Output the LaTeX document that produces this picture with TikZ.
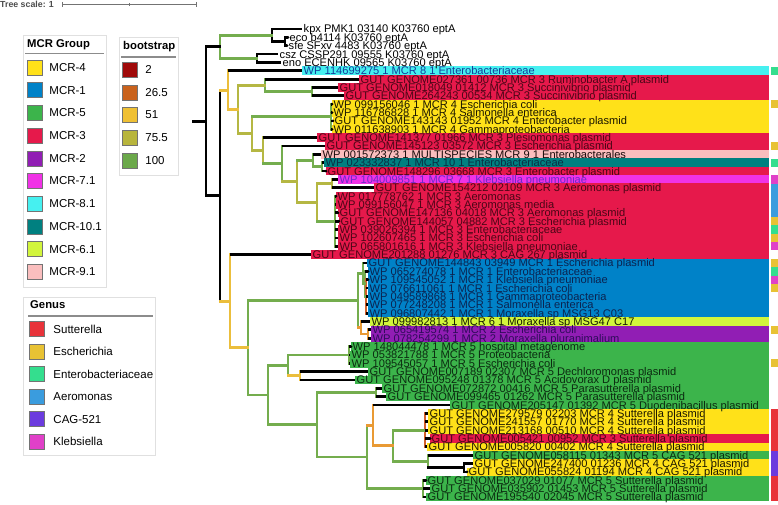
\documentclass[tikz,border=0pt]{standalone}
\usepackage{fontspec}
\setmainfont{Liberation Sans}
\usetikzlibrary{positioning}

% MCR groups
\definecolor{m4}{HTML}{FFE119}
\definecolor{m1}{HTML}{0082C8}
\definecolor{m5}{HTML}{3CB44B}
\definecolor{m3}{HTML}{E6194B}
\definecolor{m2}{HTML}{911EB4}
\definecolor{m71}{HTML}{F032E6}
\definecolor{m81}{HTML}{46F0F0}
\definecolor{m101}{HTML}{008080}
\definecolor{m61}{HTML}{D2F53C}
\definecolor{m91}{HTML}{FABEBE}
% label text
\definecolor{tm4}{HTML}{1A1600}
\definecolor{tm1}{HTML}{0B2350}
\definecolor{tm5}{HTML}{0B2A10}
\definecolor{tm3}{HTML}{4A0616}
\definecolor{tm2}{HTML}{2E0C5A}
\definecolor{tm71}{HTML}{6A2BC8}
\definecolor{tm81}{HTML}{143C9C}
\definecolor{tm101}{HTML}{0A2E44}
\definecolor{tm61}{HTML}{141A00}
\definecolor{tm91}{HTML}{1A0A0A}
% bootstrap
\definecolor{b2}{HTML}{A00A0A}
\definecolor{b26}{HTML}{C9621C}
\definecolor{b51}{HTML}{EFC034}
\definecolor{b75}{HTML}{B8B53C}
\definecolor{b100}{HTML}{6BA84A}
% branches
\definecolor{tg}{HTML}{74AD4E}
\definecolor{tolive}{HTML}{B5B743}
\definecolor{tgold}{HTML}{EBBE3C}
\definecolor{torange}{HTML}{E99A34}
\definecolor{tred}{HTML}{D2612B}
% genus
\definecolor{gsut}{HTML}{E8333A}
\definecolor{gesc}{HTML}{E8C234}
\definecolor{gent}{HTML}{34DE8E}
\definecolor{gaer}{HTML}{3A9CDE}
\definecolor{gcag}{HTML}{6B3BDE}
\definecolor{gkle}{HTML}{E040C8}
\definecolor{gno}{HTML}{FFFFFF}

\def\outgroup{1/A1/302/kpx PMK1 03140 K03760 eptA,
2/A2/288/eco b4114 K03760 eptA,
3/A2/287/sfe SFxv 4483 K03760 eptA,
4/A3/278/csz CSSP291 09555 K03760 eptA,
5/A3/281/eno ECENHK 09565 K03760 eptA}

\def\leaves{6/C/302/m81/gent/WP 114699275 1 MCR 8 1 Enterobacteriaceae,
7/E/359/m3/gno/GUT GENOME027361 00736 MCR 3 Ruminobacter A plasmid,
8/F/338/m3/gno/GUT GENOME018049 01412 MCR 3 Succinivibrio plasmid,
9/F/344/m3/gno/GUT GENOME264243 00534 MCR 3 Succinivibrio plasmid,
10/M4/332/m4/gesc/WP 099156046 1 MCR 4 Escherichia coli,
11/M4/332/m4/gno/WP 116786828 1 MCR 4 Salmonella enterica,
12/M4/333/m4/gno/GUT GENOME143143 01952 MCR 4 Enterobacter plasmid,
13/M4/332/m4/gno/WP 011638903 1 MCR 4 Gammaproteobacteria,
14/G2/317/m3/gno/GUT GENOME141377 01966 MCR 3 Plesiomonas plasmid,
15/G3/325/m3/gesc/GUT GENOME145123 03572 MCR 3 Escherichia plasmid,
16/G5/321/m91/gno/WP 001572373 1 MULTISPECIES MCR 9 1 Enterobacterales,
17/G7/324/m101/gent/WP 023332837 1 MCR 10 1 Enterobacteriaceae,
18/G7/326/m3/gno/GUT GENOME148296 03668 MCR 3 Enterobacter plasmid,
19/G8/338/m71/gkle/WP 104009851 1 MCR 7 1 Klebsiella pneumoniae,
20/G8/374/m3/gaer/GUT GENOME154212 02109 MCR 3 Aeromonas plasmid,
21/G9/336/m3/gaer/WP 017778762 1 MCR 3 Aeromonas,
22/G9/336/m3/gaer/WP 099156047 1 MCR 3 Aeromonas media,
23/G9/338/m3/gaer/GUT GENOME147136 04018 MCR 3 Aeromonas plasmid,
24/G9/339/m3/gesc/GUT GENOME144057 04882 MCR 3 Escherichia plasmid,
25/G9/338/m3/gent/WP 039026394 1 MCR 3 Enterobacteriaceae,
26/G9/338/m3/gesc/WP 102607465 1 MCR 3 Escherichia coli,
27/G9/338/m3/gkle/WP 065801616 1 MCR 3 Klebsiella pneumoniae,
28/H/311/m3/gno/GUT GENOME201288 01276 MCR 3 CAG 267 plasmid,
29/J1/367/m1/gesc/GUT GENOME144843 03949 MCR 1 Escherichia plasmid,
30/J1b/368/m1/gent/WP 065274078 1 MCR 1 Enterobacteriaceae,
31/J1c/368/m1/gkle/WP 109545052 1 MCR 1 Klebsiella pneumoniae,
32/J1c/368/m1/gesc/WP 076611061 1 MCR 1 Escherichia coli,
33/J1c/368/m1/gno/WP 049589868 1 MCR 1 Gammaproteobacteria,
34/J1c/368/m1/gno/WP 077248208 1 MCR 1 Salmonella enterica,
35/J1c/368/m1/gno/WP 096807442 1 MCR 1 Moraxella sp MSG13 C03,
36/J2/370/m61/gno/WP 099982813 1 MCR 6 1 Moraxella sp MSG47 C17,
37/J3/371/m2/gesc/WP 065419574 1 MCR 2 Escherichia coli,
38/J3/371/m2/gno/WP 078254299 1 MCR 2 Moraxella pluranimalium,
39/K1a/351/m5/gno/WP 148044478 1 MCR 5 hospital metagenome,
40/K1a/350/m5/gno/WP 053821788 1 MCR 5 Proteobacteria,
41/K1a/350/m5/gesc/WP 109545057 1 MCR 5 Escherichia coli,
42/K1b/368/m5/gno/GUT GENOME007189 02307 MCR 5 Dechloromonas plasmid,
43/K1b/355/m5/gno/GUT GENOME095248 01378 MCR 5 Acidovorax D plasmid,
44/P/382/m5/gno/GUT GENOME072872 00416 MCR 5 Parasutterella plasmid,
45/P/386/m5/gno/GUT GENOME099465 01262 MCR 5 Parasutterella plasmid,
46/O1/450/m5/gno/GUT GENOME205147 01392 MCR 5 Duodenibacillus plasmid,
47/L47/428/m4/gsut/GUT GENOME279579 02203 MCR 4 Sutterella plasmid,
48/L47/428/m4/gsut/GUT GENOME241557 01770 MCR 4 Sutterella plasmid,
49/L47/428/m4/gsut/GUT GENOME213168 00510 MCR 4 Sutterella plasmid,
50/L47/430/m3/gsut/GUT GENOME005421 00952 MCR 3 Sutterella plasmid,
51/L47/427/m4/gsut/GUT GENOME005820 00402 MCR 4 Sutterella plasmid,
52/L52/473/m5/gcag/GUT GENOME058115 01343 MCR 5 CAG 521 plasmid,
53/L53/473/m4/gcag/GUT GENOME247400 01236 MCR 4 CAG 521 plasmid,
54/L53/467/m4/gcag/GUT GENOME055824 01194 MCR 4 CAG 521 plasmid,
55/M/426/m5/gsut/GUT GENOME037029 01077 MCR 5 Sutterella plasmid,
56/M/430/m5/gsut/GUT GENOME035902 01453 MCR 5 Sutterella plasmid,
57/M/426/m5/gsut/GUT GENOME195540 02045 MCR 5 Sutterella plasmid}

\begin{document}
\begin{tikzpicture}[x=1pt,y=-1pt,
    br/.style={line width=2.8pt,line cap=rect,draw=#1},
    leafline/.style={line width=2.8pt,line cap=butt,draw=black},
    lab/.style={anchor=base west,inner sep=0pt,xshift=1.5pt,yshift=-3.95pt,font=\fontsize{11.1}{11.1}\selectfont},
    swatch/.style={draw=black!55,line width=0.5pt,minimum size=15pt,inner sep=0pt},
    legtxt/.style={anchor=west,inner sep=0pt,font=\fontsize{11.5}{12}\selectfont},
    leghead/.style={anchor=west,inner sep=0pt,font=\bfseries\fontsize{11.3}{12}\selectfont},
    legbox/.style={draw=black!12,line width=0.8pt,fill=white},
    legrule/.style={draw=black!45,line width=1.2pt}]
\useasboundingbox (0,0) rectangle (778,505);

% tree scale
\node[anchor=west,inner sep=0pt,text=black!70,font=\bfseries\fontsize{8.8}{9}\selectfont] (tscale) at (0,4.5) {Tree scale: 1};
\coordinate (sb0) at (62,4.5);
\coordinate (sbm) at (129,4.5);
\coordinate (sb1) at (196,4.5);
\draw[black!55,line width=0.8pt] (sb0) -- (sb1);
\draw[black!55,line width=0.8pt] ([yshift=2.5pt]sb0) -- ([yshift=-2.5pt]sb0);
\draw[black!55,line width=0.8pt] ([yshift=2.5pt]sb1) -- ([yshift=-2.5pt]sb1);
\draw[black!55,line width=0.6pt] ([yshift=1.5pt]sbm) -- ([yshift=-1.5pt]sbm);

% legends
\draw[legbox] (23,35) rectangle (106,287);
\node[leghead] (mcrhead) at (27,45) {MCR Group};
\draw[legrule] (25,53.5) -- (104,53.5);
\foreach \cc/\tt [count=\k] in {m4/MCR-4,m1/MCR-1,m5/MCR-5,m3/MCR-3,m2/MCR-2,m71/MCR-7.1,m81/MCR-8.1,m101/MCR-10.1,m61/MCR-6.1,m91/MCR-9.1}{
  \node[swatch,fill=\cc] (ms\k) at (34.5,{67.5+(\k-1)*22.7}) {};
  \node[legtxt,right=7pt of ms\k] (mt\k) {\tt};
}

\draw[legbox] (119,37) rectangle (178,175);
\node[leghead] (bshead) at (123,47) {bootstrap};
\draw[legrule] (121,57) -- (176,57);
\foreach \cc/\tt [count=\k] in {b2/2,b26/26.5,b51/51,b75/75.5,b100/100}{
  \node[swatch,fill=\cc] (bs\k) at (129.5,{69.5+(\k-1)*22.8}) {};
  \node[legtxt,right=8pt of bs\k] (bt\k) {\tt};
}

\draw[legbox] (23,297) rectangle (155,455);
\node[leghead] (gnhead) at (30,305) {Genus};
\draw[legrule] (28,316) -- (153,316);
\foreach \cc/\tt [count=\k] in {gsut/Sutterella,gesc/Escherichia,gent/Enterobacteriaceae,gaer/Aeromonas,gcag/CAG-521,gkle/Klebsiella}{
  \node[swatch,fill=\cc] (gs\k) at (36.5,{329.2+(\k-1)*22.5}) {};
  \node[legtxt,right=9pt of gs\k] (gt\k) {\tt};
}

% internal nodes
\coordinate (root) at (193,121.24);
\coordinate (R) at (206,121.24);
\coordinate (A) at (220,46.76);
\coordinate (A1) at (272,35.27);
\coordinate (A2) at (285,41.54);
\coordinate (A3) at (257,58.25);
\coordinate (B) at (220,195.72);
\coordinate (C) at (228,90.18);
\coordinate (D) at (238,109.57);
\coordinate (E) at (265,85.41);
\coordinate (F) at (312,91.68);
\coordinate (G) at (252,133.73);
\coordinate (M4) at (331,116.75);
\coordinate (G2) at (263,150.70);
\coordinate (G3) at (282,163.76);
\coordinate (G4) at (297,181.52);
\coordinate (G5) at (313,160.63);
\coordinate (G7) at (322,166.89);
\coordinate (G6) at (317,202.41);
\coordinate (G8) at (332,183.61);
\coordinate (G9) at (335,221.21);
\coordinate (H) at (230,301.25);
\coordinate (I) at (248,347.85);
\coordinate (J) at (358,300.61);
\coordinate (J1) at (363,273.45);
\coordinate (J1b) at (365,283.89);
\coordinate (J1c) at (366,296.43);
\coordinate (J2) at (361,327.77);
\coordinate (J3) at (368,334.03);
\coordinate (K) at (268,395.09);
\coordinate (K1) at (288,365.38);
\coordinate (K1a) at (349,354.93);
\coordinate (K1b) at (300,375.82);
\coordinate (K2) at (317,424.79);
\coordinate (P) at (376,392.53);
\coordinate (N) at (367,457.04);
\coordinate (O1) at (373,425.44);
\coordinate (O2) at (393,445.81);
\coordinate (L47) at (425,430.14);
\coordinate (L52) at (428,461.48);
\coordinate (L53) at (464,467.74);
\coordinate (M) at (423,488.64);

% leaves, label bands, genus strip
\foreach \i/\p/\tx/\s in \outgroup
  \coordinate (l\i) at (\tx,{29+(\i-1)*8.357});
\foreach \i/\p/\tx/\m/\g/\s in \leaves{
  \coordinate (l\i) at (\tx,{29+(\i-1)*8.357});
  \fill[\m] ([yshift=4.3pt]l\i) rectangle (769.3,{29+(\i-1)*8.357+4.3});
  \fill[\g] (770.7,{29+(\i-1)*8.357-4.2}) rectangle (778,{29+(\i-1)*8.357+4.2});
}

% branches
\draw[br=black] (root) -- (R);
\foreach \n/\a/\b/\cc in {R/A/B/black,A/A1/A3/tg,A1/l1/A2/black,A2/l2/l3/black,A3/l4/l5/black,
    B/C/H/black,C/l6/D/tgold,D/E/G/tolive,E/l7/F/tg,F/l8/l9/tg,G/M4/G2/tolive,M4/l10/l13/tg,
    G2/l14/G3/tolive,G3/l15/G4/tg,G4/G5/G6/tolive,G5/l16/G7/tg,G7/l17/l18/tg,G6/G8/G9/tolive,
    G8/l19/l20/tolive,G9/l21/l27/tg,H/l28/I/tgold,I/J/K/tg,J/J1/J2/tg,J1/l29/J1b/tg,
    J1b/l30/J1c/tg,J1c/l31/l35/tred,J2/l36/J3/torange,J3/l37/l38/torange,K/K1/K2/tg,
    K1/K1a/K1b/tg,K1a/l39/l41/tg,K1b/l42/l43/tgold,K2/P/N/tg,P/l44/l45/tg,N/O1/M/tg,
    O1/l46/O2/torange,O2/L47/L52/tg,L47/l47/l51/tred,L52/l52/L53/tg,L53/l53/l54/black,M/l55/l57/tg}
  \draw[br=\cc] (\n |- \a) -- (\n |- \b);
\foreach \p/\n/\cc in {R/A/black,R/B/black,A/A1/tg,A/A3/tg,A1/A2/black,B/C/tgold,B/H/tgold,
    C/D/tgold,D/E/tolive,D/G/tolive,E/F/tg,G/M4/tg,G/G2/tolive,G2/G3/tg,G3/G4/tolive,
    G4/G5/tg,G4/G6/tolive,G5/G7/tg,G6/G8/tolive,G6/G9/tg,H/I/tgold,I/J/tg,I/K/tg,J/J1/tg,
    J/J2/torange,J1/J1b/tg,J1b/J1c/tg,J2/J3/torange,K/K1/tg,K/K2/tg,K1/K1a/tg,K1/K1b/tgold,
    K2/P/tg,K2/N/tg,N/O1/torange,N/M/tg,O1/O2/torange,O2/L47/tg,O2/L52/tg,L52/L53/black}
  \draw[br=\cc] (\p |- \n) -- (\n);
\foreach \i/\p/\tx/\s in \outgroup
  \draw[leafline] (\p |- l\i) -- (l\i);
\foreach \i/\p/\tx/\m/\g/\s in \leaves
  \draw[leafline] (\p |- l\i) -- (l\i);
\foreach \i in {2,3,10,11,12,13,18,21,23,24,30,31,39,50,54,55}
  \fill (l\i) circle[radius=1.5];

% labels
\foreach \i/\p/\tx/\s in \outgroup
  \node[lab] (n\i) at (l\i) {\s};
\foreach \i/\p/\tx/\m/\g/\s in \leaves
  \node[lab,text=t\m] (n\i) at (l\i) {\s};
\end{tikzpicture}
\end{document}
